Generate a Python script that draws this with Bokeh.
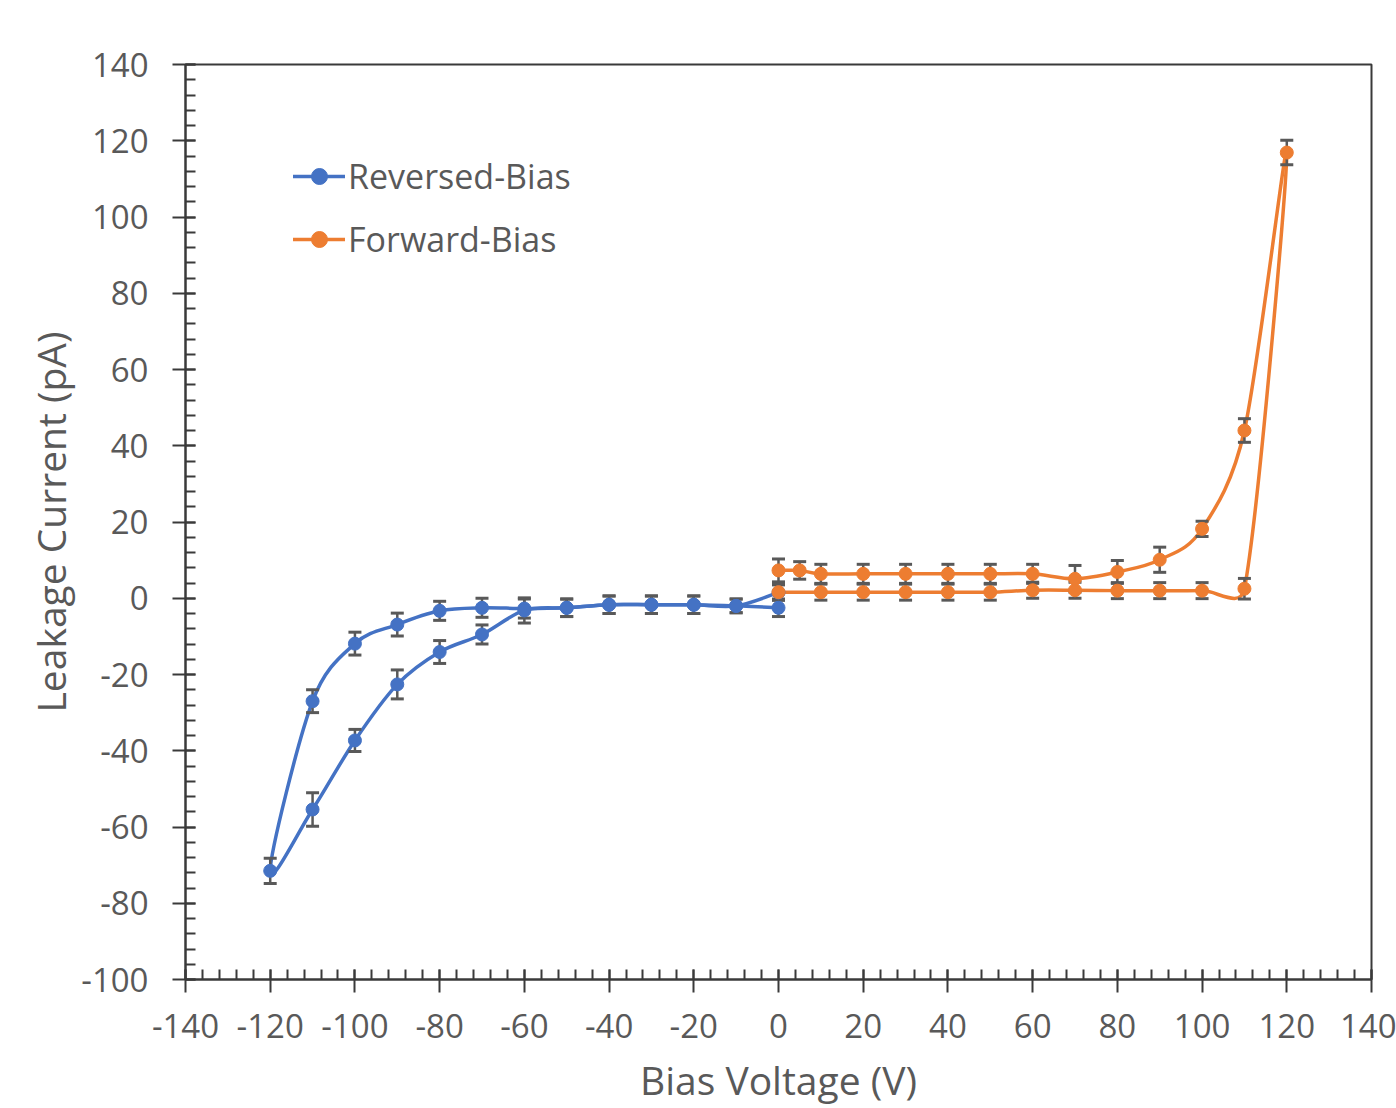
import numpy as np
from bokeh.plotting import figure
from bokeh.models import (ColumnDataSource, Whisker, TeeHead, FixedTicker, Range1d,
                          Legend, LegendItem)
from bokeh.embed import file_html
from bokeh.resources import INLINE

# ---------------- data ----------------
rev_x = [0, -10, -20, -30, -40, -50, -60, -70, -80, -90, -100, -110, -120,
         -110, -100, -90, -80, -70, -60, -50, -40, -30, -20, -10, 0]
rev_y = [-2.5, -2.0, -1.7, -1.7, -1.7, -2.5, -2.7, -2.5, -3.3, -6.9, -11.9, -27.0, -71.5,
         -55.4, -37.3, -22.6, -14.1, -9.5, -3.2, -2.5, -1.7, -1.7, -1.7, -2.0, 1.5]
rev_err = [2.3, 1.8, 2.3, 2.3, 2.3, 2.3, 2.5, 2.5, 2.5, 3.0, 3.0, 3.0, 3.3,
           4.4, 2.9, 3.8, 3.0, 2.5, 3.3, 2.3, 2.3, 2.3, 2.3, 1.8, 2.0]

fwd_x = [0, 10, 20, 30, 40, 50, 60, 70, 80, 90, 100, 110, 120,
         110, 100, 90, 80, 70, 60, 50, 40, 30, 20, 10, 5, 0]
fwd_y = [1.6, 1.6, 1.6, 1.6, 1.6, 1.6, 2.1, 2.1, 2.0, 2.0, 2.0, 2.5, 116.9,
         44.0, 18.2, 10.1, 6.9, 5.1, 6.4, 6.4, 6.4, 6.4, 6.4, 6.4, 7.3, 7.3]
fwd_err = [2.1, 2.1, 2.1, 2.1, 2.1, 2.1, 2.1, 2.1, 2.1, 2.1, 2.1, 2.7, 3.2,
           3.1, 2.0, 3.3, 3.0, 3.5, 2.5, 2.5, 2.5, 2.5, 2.5, 2.5, 2.3, 3.0]

x_ticks = list(range(-140, 141, 20))
y_ticks = list(range(-100, 141, 20))
x_tick_labels = [str(v) for v in x_ticks]
y_tick_labels = [str(v) for v in y_ticks]

BLUE = "#4472C4"
ORANGE = "#ED7D31"
TXT = "#595959"
AX = "#3a3a3a"
FONT = "Open Sans"

# frame size (px) used to smooth in screen space like a spreadsheet does
FW, FH = 1186, 915
SX = FW / 280.0
SY = FH / 240.0


def smooth_segments(xs, ys):
    P = np.column_stack([np.asarray(xs, float) * SX, np.asarray(ys, float) * SY])
    n = len(P)
    f = 1.0 / 6.0
    out = {k: [] for k in ("x0", "y0", "x1", "y1", "cx0", "cy0", "cx1", "cy1")}
    for i in range(n - 1):
        p0 = P[i - 1] if i > 0 else P[i]
        p1 = P[i]
        p2 = P[i + 1]
        p3 = P[i + 2] if i + 2 < n else P[i + 1]
        d12 = np.linalg.norm(p2 - p1)
        t1 = (p2 - p0) * f
        l1 = np.linalg.norm(t1)
        if l1 > d12 / 2 and l1 > 0:
            t1 = t1 * (d12 / 2) / l1
        t2 = (p3 - p1) * f
        l2 = np.linalg.norm(t2)
        if l2 > d12 / 2 and l2 > 0:
            t2 = t2 * (d12 / 2) / l2
        c1 = p1 + t1
        c2 = p2 - t2
        out["x0"].append(p1[0] / SX); out["y0"].append(p1[1] / SY)
        out["x1"].append(p2[0] / SX); out["y1"].append(p2[1] / SY)
        out["cx0"].append(c1[0] / SX); out["cy0"].append(c1[1] / SY)
        out["cx1"].append(c2[0] / SX); out["cy1"].append(c2[1] / SY)
    return out


p = figure(width=1396, height=1108, output_backend="svg", toolbar_location=None,
           x_range=Range1d(-140, 140), y_range=Range1d(-100, 140),
           min_border_left=185, min_border_top=64, min_border_right=25, min_border_bottom=129)
p.xgrid.visible = False
p.ygrid.visible = False
p.outline_line_color = AX
p.outline_line_width = 2
p.background_fill_color = "white"
p.border_fill_color = "white"

for ax, ticks, labels in ((p.xaxis, x_ticks, x_tick_labels), (p.yaxis, y_ticks, y_tick_labels)):
    ax.ticker = FixedTicker(ticks=ticks, minor_ticks=list(range(min(ticks), max(ticks) + 1, 4)))
    ax.major_label_overrides = {t: l for t, l in zip(ticks, labels)}
    ax.axis_line_color = AX
    ax.axis_line_width = 2
    ax.major_tick_line_color = AX
    ax.major_tick_line_width = 2
    ax.minor_tick_line_color = AX
    ax.minor_tick_line_width = 2
    ax.major_tick_in = 10
    ax.major_tick_out = 13
    ax.minor_tick_in = 10
    ax.minor_tick_out = 0
    ax.major_label_text_font = FONT
    ax.major_label_text_font_size = "33px"
    ax.major_label_text_color = TXT
    ax.axis_label_text_font = FONT
    ax.axis_label_text_font_size = "39px"
    ax.axis_label_text_font_style = "normal"
    ax.axis_label_text_color = TXT

p.xaxis.major_label_standoff = 21
p.yaxis.major_label_standoff = 24
p.yaxis.axis_label = "Leakage Current (pA)"
p.yaxis.axis_label_standoff = 1
p.xaxis.axis_label = "Bias Voltage (V)"
p.xaxis.axis_label_standoff = 12

series = [
    ("Reversed-Bias", rev_x, rev_y, rev_err, BLUE),
    ("Forward-Bias", fwd_x, fwd_y, fwd_err, ORANGE),
]
items = []
for name, xs, ys, es, col in series:
    seg = smooth_segments(xs, ys)
    br = p.bezier(x0="x0", y0="y0", x1="x1", y1="y1", cx0="cx0", cy0="cy0", cx1="cx1", cy1="cy1",
                  source=ColumnDataSource(seg), line_color=col, line_width=3.5, line_cap="round")
    src = ColumnDataSource(dict(x=xs, y=ys,
                                lo=[y - e for y, e in zip(ys, es)],
                                hi=[y + e for y, e in zip(ys, es)]))
    w = Whisker(base="x", upper="hi", lower="lo", source=src, dimension="height",
                line_color="#595959", line_width=2.5, level="glyph",
                upper_head=TeeHead(size=13, line_color="#595959", line_width=3),
                lower_head=TeeHead(size=13, line_color="#595959", line_width=3))
    p.add_layout(w)
    sr = p.scatter("x", "y", source=src, size=13, marker="circle", fill_color=col, line_color=col,
                   level="overlay")
    items.append(LegendItem(label=name, renderers=[br, sr]))

legend = Legend(items=items, location=(108, 717), glyph_width=52, glyph_height=40,
                label_height=40, label_standoff=3, spacing=17, padding=0, margin=0,
                border_line_color=None, background_fill_alpha=0,
                label_text_font=FONT, label_text_font_size="34px", label_text_color=TXT)
p.add_layout(legend)

open("out.html", "w").write(file_html(p, INLINE))
